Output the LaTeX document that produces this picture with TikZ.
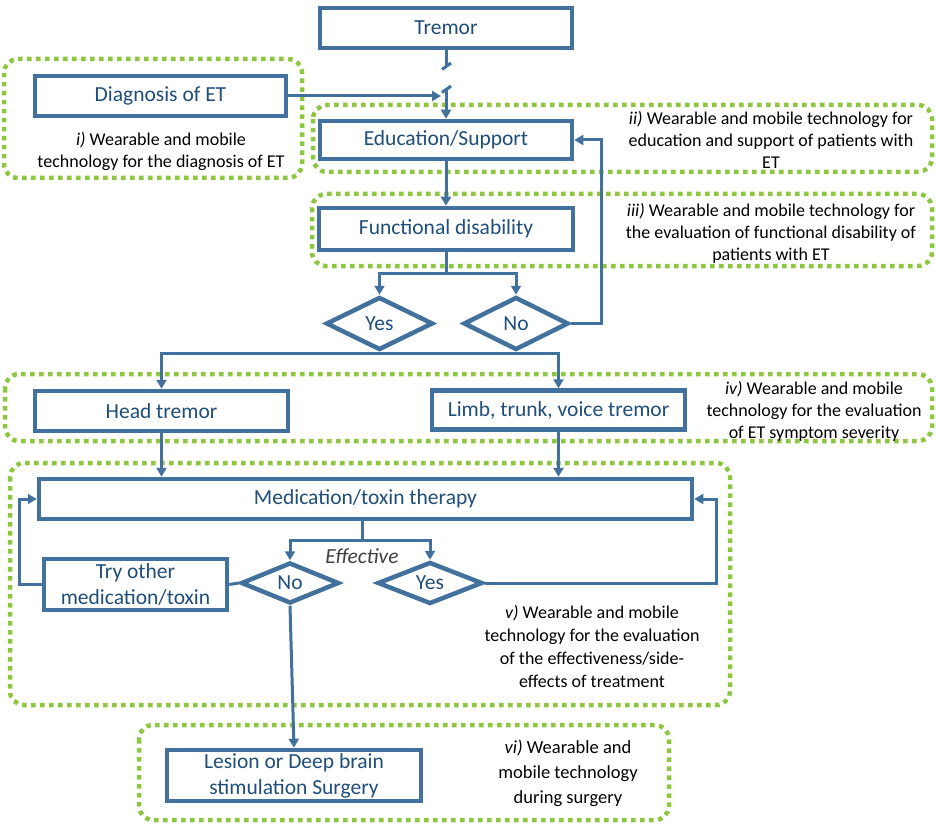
\documentclass[tikz,border=0pt]{standalone}
\usepackage{fontspec}
\setmainfont{Carlito}
\usetikzlibrary{arrows.meta,shapes.geometric,calc}
\definecolor{boxblue}{RGB}{65,113,156}
\definecolor{txtblue}{RGB}{31,78,121}
\definecolor{dotgreen}{RGB}{141,198,63}
\definecolor{effgray}{RGB}{64,64,64}
\tikzset{
  flowbox/.style={draw=boxblue,line width=4.5pt,fill=white,text=txtblue,font=\fontsize{21.5}{26}\selectfont,align=center,inner sep=0pt},
  decision/.style={draw=boxblue,line width=4.5pt,fill=white,diamond,text=txtblue,font=\fontsize{21.5}{24}\selectfont,inner sep=0pt},
  conn/.style={draw=boxblue,line width=3pt},
  arr/.style={conn,-{Triangle[length=9pt,width=10pt]}},
  zone/.style={draw=dotgreen,line width=4.5pt,dash pattern=on 4.5pt off 4.5pt,rounded corners=14pt},
  note/.style={text=black,font=\fontsize{18}{22}\selectfont,align=center,inner sep=0pt},
}
\begin{document}
\begin{tikzpicture}[x=1pt,y=-1pt]
\useasboundingbox (0,0) rectangle (936,826);
% dotted zones
\draw[zone] (4,59) rectangle (302,178);
\draw[zone] (313,105) rectangle (932,172);
\draw[zone] (312,194) rectangle (932,266);
\draw[zone] (5,374) rectangle (932,441);
\draw[zone] (10,463) rectangle (730,705);
\draw[zone] (139,725) rectangle (669,820);
% boxes
\node[flowbox,minimum width=252pt,minimum height=40pt] (tremor) at (446,28) {Tremor};
\node[flowbox,minimum width=251pt,minimum height=40pt] (diag) at (160.5,96) {Diagnosis of ET};
\node[flowbox,minimum width=252pt,minimum height=38pt] (edu) at (446,140) {Education/Support};
\node[flowbox,minimum width=254pt,minimum height=42pt] (func) at (446,229) {Functional disability};
\node[decision,minimum width=107pt,minimum height=53pt] (yes1) at (379.5,323.5) {Yes};
\node[decision,minimum width=105pt,minimum height=53pt] (no1) at (516,323.5) {No};
\node[flowbox,minimum width=253pt,minimum height=40pt] (head) at (161.5,411) {Head tremor};
\node[flowbox,minimum width=253pt,minimum height=39pt] (limb) at (558.5,410) {Limb, trunk, voice tremor};
\node[flowbox,minimum width=653pt,minimum height=40pt] (med) at (365.5,499) {Medication/toxin therapy};
\node[flowbox,minimum width=183pt,minimum height=51pt] (try) at (135.5,584.5) {Try other\\medication/toxin};
\node[decision,minimum width=98pt,minimum height=41pt] (no2) at (290,583) {No};
\node[decision,minimum width=105pt,minimum height=41pt] (yes2) at (430,583) {Yes};
\node[flowbox,minimum width=254pt,minimum height=51pt] (lesion) at (294,775.5) {Lesion or Deep brain\\stimulation Surgery};
\node[text=effgray,font=\fontsize{21.5}{24}\selectfont\itshape,inner sep=0pt] (eff) at (362,556) {Effective};
% notes
\node[note] (ni) at (161,151) {\textit{i)} Wearable and mobile\\technology for the diagnosis of ET};
\node[note] (nii) at (771,140) {\textit{ii)} Wearable and mobile technology for\\education and support of patients with\\ET};
\node[note] (niii) at (771,233) {\textit{iii)} Wearable and mobile technology for\\the evaluation of functional disability of\\patients with ET};
\node[note] (niv) at (814,411) {\textit{iv)} Wearable and mobile\\technology for the evaluation\\of ET symptom severity};
\node[note,font=\fontsize{18}{23}\selectfont] (nv) at (592,646) {\textit{v)} Wearable and mobile\\technology for the evaluation\\of the effectiveness/side-\\effects of treatment};
\node[note,font=\fontsize{18.5}{25}\selectfont] (nvi) at (568,773) {\textit{vi)} Wearable and\\mobile technology\\during surgery};
% connectors
\coordinate (b1) at (446,66);
\coordinate (b2) at (446,89);
\coordinate (dj) at (441,96);
\draw[conn] (tremor.south) -- (b1);
\draw[conn] (442,69.5) -- (451,63);
\draw[conn] (442,92.5) -- (451,86);
\draw[arr] (b2) -- (edu.north);
\draw[arr] (diag.east) -- (dj);
\draw[arr] (edu.south) -- (func.north);
\coordinate (fj) at (446,273);
\draw[conn] (func.south) -- (fj);
\draw[arr] (fj) -| (yes1.north);
\draw[arr] (fj) -| (no1.north);
\coordinate (r1) at (601,140);
\draw[arr] (no1.east) -| (r1) -- (edu.east);
\coordinate (yj) at (379.5,353);
\draw[conn] (yes1.south) -- (yj);
\draw[arr] (yj) -| (head.north);
\draw[arr] (yj) -| (limb.north);
\draw[arr] (head.south) -- (head.south |- med.north);
\draw[arr] (limb.south) -- (limb.south |- med.north);
\coordinate (mj) at (362,540);
\draw[conn] (362,519) -- (mj);
\draw[arr] (mj) -| (no2.north);
\draw[arr] (mj) -| (yes2.north);
\draw[arr] (try.west) -- ++(-22,0) |- (med.west);
\draw[conn] (no2.west) -- (try.east);
\draw[arr] (yes2.east) -- ++(232,0) |- (med.east);
\draw[arr] (no2.south) -- (lesion.north);
\end{tikzpicture}
\end{document}
